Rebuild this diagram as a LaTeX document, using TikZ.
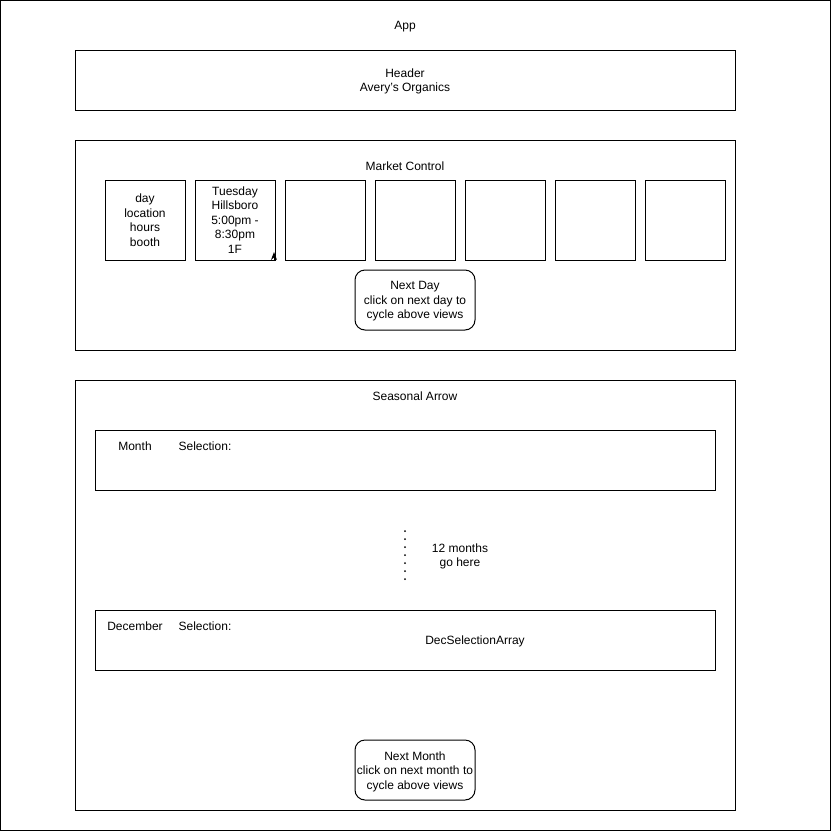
\documentclass[tikz,border=0pt]{standalone}
\usepackage{fontspec}
\setmainfont{Liberation Sans}
\usepackage{tikz}
\usetikzlibrary{positioning,arrows.meta}
\tikzset{
  frame/.style={draw,line width=1pt},
  lbl/.style={font=\fontsize{12}{14.5}\selectfont,align=center,inner sep=0pt,yshift=-1.5pt},
  daybox/.style={draw,line width=1pt,minimum width=80pt,minimum height=80pt,inner sep=0pt,
    font=\fontsize{12}{14.5}\selectfont,align=center},
  rbox/.style={draw,line width=1pt,rounded corners=10pt}
}

\begin{document}
\begin{tikzpicture}[x=1pt,y=-1pt]
\useasboundingbox (0,0) rectangle (831,831);
\draw[frame] (0.5,0.5) rectangle (830,830);
\node[lbl] (app) at (405,25) {App};
% header
\draw[frame] (75,50) rectangle (735,110);
\node[lbl] (header) at (405,80) {Header\\Avery's Organics};
% market control
\draw[frame] (75,140) rectangle (735,350);
\node[lbl] (market) at (405,165) {Market Control};
\foreach \i/\txt in {0/{day\\location\\hours\\booth},1/{Tuesday\\Hillsboro\\5:00pm -\\8:30pm\\1F},2/{},3/{},4/{},5/{},6/{}}
  \node[daybox] (day\i) at (145+90*\i,220) {\txt};
\coordinate (tail) at (274,261);
\coordinate (head) at (274,252);
\draw[-{Stealth[length=8pt,width=6pt]},line width=1pt] (tail) -- (head);
\draw[rbox] (355,270) rectangle (475,330);
\node[lbl] (nextday) at (415,300) {Next Day\\click on next day to\\cycle above views};
% seasonal arrow
\draw[frame] (75,380) rectangle (735,810);
\node[lbl] (seasonal) at (415,395) {Seasonal Arrow};
\draw[frame] (95,430) rectangle (715,490);
\node[lbl] (month) at (135,445) {Month};
\node[lbl] (monthsel) at (205,445) {Selection:};
\coordinate (dtop) at (405,531);
\coordinate (dbot) at (405,582);
\draw[line width=2pt,line cap=round,dash pattern=on 0pt off 8pt] (dtop) -- (dbot);
\node[lbl] (twelve) at (460,555) {12 months\\go here};
\draw[frame] (95,610) rectangle (715,670);
\node[lbl] (dec) at (135,625) {December};
\node[lbl] (decsel) at (205,625) {Selection:};
\node[lbl] (decarr) at (475,640) {DecSelectionArray};
\draw[rbox] (355,740) rectangle (475,800);
\node[lbl] (nextmonth) at (415,770) {Next Month\\click on next month to\\cycle above views};
\end{tikzpicture}
\end{document}
